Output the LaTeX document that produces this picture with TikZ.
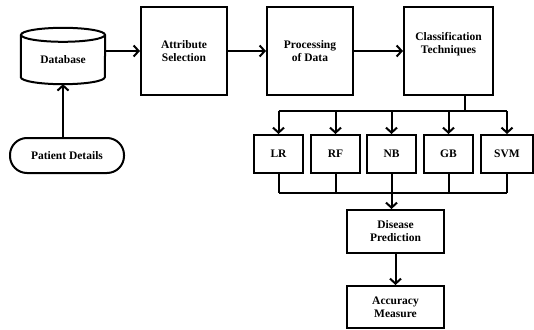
\documentclass[tikz,border=0pt]{standalone}
\usepackage{fontspec}
\setmainfont{Liberation Serif}
\usetikzlibrary{arrows.meta}

\tikzset{
  blk/.style={draw, line width=2pt, align=center, inner sep=0pt,
    font=\bfseries\fontsize{11.5}{13}\selectfont},
  flow/.style={line width=2pt, -{Straight Barb[length=5pt,width=11pt,line width=2pt]}},
  wire/.style={line width=2pt}
}

\begin{document}
\begin{tikzpicture}[x=1pt,y=1pt]
	\useasboundingbox (0,0) rectangle (534,-329);

	% database cylinder and source
	\node[align=center, inner sep=0pt, minimum width=84pt, minimum height=49pt,
		font=\bfseries\fontsize{11.5}{13}\selectfont] (db) at (63,-59.5) {Database};
	\draw[wire] (db.north west) -- ([yshift=7pt]db.south west)
		arc (180:360:42pt and 7pt) -- (db.north east);
	\draw[wire] (db.north) ellipse (42pt and 7pt);
	\node[blk, rounded corners=17pt, minimum width=114pt, minimum height=35pt] (pat) at (67,-155.5) {Patient Details};

	% main chain
	\node[blk, minimum width=86pt, minimum height=88pt] (attr) at (184,-51) {Attribute\\Selection};
	\node[blk, minimum width=86pt, minimum height=88pt] (proc) at (310,-51) {Processing\\of Data};
	\node[blk, minimum width=89pt, minimum height=88pt] (cls) at (448.5,-51) {Classification\\Techniques\\[4pt]};

	% classifiers
	\node[blk, minimum width=49pt, minimum height=38pt] (lr) at (278.5,-154) {LR};
	\node[blk, minimum width=49pt, minimum height=38pt] (rf) at (335.5,-154) {RF};
	\node[blk, minimum width=49pt, minimum height=38pt] (nb) at (391.5,-154) {NB};
	\node[blk, minimum width=49pt, minimum height=38pt] (gb) at (448.5,-154) {GB};
	\node[blk, minimum width=52pt, minimum height=38pt] (svm) at (507,-154) {SVM};

	\node[blk, minimum width=97pt, minimum height=43pt] (dis) at (395.5,-231.5) {Disease\\Prediction};
	\node[blk, minimum width=97pt, minimum height=42pt] (acc) at (395.5,-307) {Accuracy\\Measure};

	\coordinate (top) at (465,-111);
	\coordinate (bot) at (391.5,-193);

	\draw[flow] (pat.north -| db.south) -- (db.south);
	\draw[flow] (attr.west -| db.east) -- (attr.west);
	\draw[flow] (attr) -- (proc);
	\draw[flow] (proc) -- (cls);

	\draw[wire] (cls.south -| top) -- (top);
	\draw[wire] (lr.north |- top) -- (svm.north |- top);
	\foreach \n in {lr,rf,nb,gb,svm}
		\draw[flow] (\n.north |- top) -- (\n.north);

	\foreach \n in {lr,rf,nb,gb,svm}
		\draw[wire] (\n.south) -- (\n.south |- bot);
	\draw[wire] (lr.south |- bot) -- (svm.south |- bot);
	\draw[flow] (bot) -- (bot |- dis.north);
	\draw[flow] (dis) -- (acc);
\end{tikzpicture}
\end{document}
